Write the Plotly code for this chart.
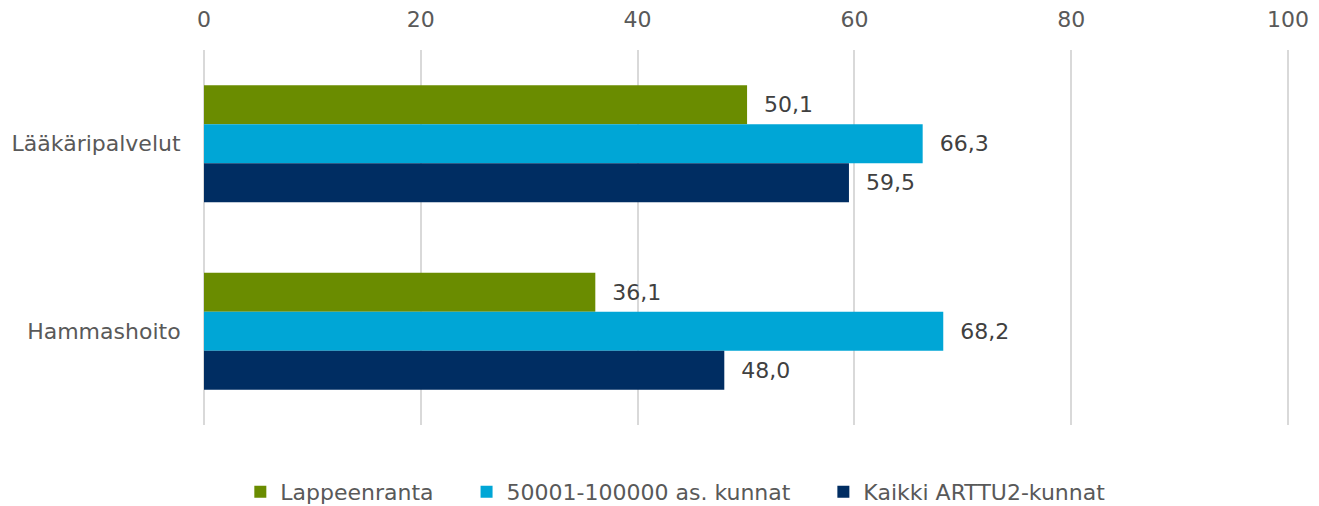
import plotly.graph_objects as go

kategoriat = ["Lääkäripalvelut", "Hammashoito"]
sarjat = ["Lappeenranta", "50001-100000 as. kunnat", "Kaikki ARTTU2-kunnat"]
lappeenranta = [50.1, 36.1]
kunnat_50_100 = [66.3, 68.2]
kaikki_arttu2 = [59.5, 48.0]
x_tikit = [0, 20, 40, 60, 80, 100]

VARIT = ["#6a8c00", "#00a6d6", "#002d62"]
TEKSTI = "#595959"
FONTTI = "Verdana, 'DejaVu Sans', sans-serif"
NBSP = "\u00a0"


def muotoile(v):
    # suomalainen desimaalipilkku, pieni rako palkin päähän
    return NBSP * 2 + f"{v:.1f}".replace(".", ",")


fig = go.Figure()
for i, (nimi, arvot, vari) in enumerate(zip(sarjat, [lappeenranta, kunnat_50_100, kaikki_arttu2], VARIT)):
    fig.add_trace(go.Bar(
        y=kategoriat, x=arvot,
        orientation="h",
        # lisätilaa selitteen kohtien väliin
        name=nimi + (NBSP * 4 if i < len(sarjat) - 1 else ""),
        marker=dict(color=vari, line=dict(width=0)),
        text=[muotoile(v) for v in arvot],
        textposition="outside",
        constraintext="none",
        textfont=dict(size=22, color="#404040", family=FONTTI),
        cliponaxis=False,
    ))

fig.update_layout(
    width=1319, height=506,
    barmode="group",
    bargap=0.376,
    bargroupgap=0,
    plot_bgcolor="white",
    paper_bgcolor="white",
    font=dict(family=FONTTI, size=22, color=TEKSTI),
    margin=dict(l=204, r=28, t=50, b=81, autoexpand=False),
    showlegend=True,
    legend=dict(orientation="h", xref="container", yref="container",
                x=0.512, xanchor="center", y=0.028, yanchor="middle",
                font=dict(size=22, color=TEKSTI), traceorder="normal"),
    # pieni ylitys, jotta 100:n ruudukkoviiva piirtyy reunaan
    xaxis=dict(side="top", range=[0, 100.28], tickvals=x_tikit, automargin=False,
               showgrid=True, gridcolor="#d9d9d9", gridwidth=1.5,
               zeroline=True, zerolinecolor="#d9d9d9", zerolinewidth=1.5,
               showline=False, ticks="outside", ticklen=13, tickcolor="rgba(0,0,0,0)",
               tickfont=dict(size=22, color=TEKSTI)),
    yaxis=dict(autorange="reversed", showgrid=False, showline=False, automargin=False,
               ticks="outside", ticklen=18, tickcolor="rgba(0,0,0,0)",
               tickfont=dict(size=22, color=TEKSTI)),
)

# sivun oletusreunus pois, jotta kuva täyttää ikkunan tarkasti
fig.write_html("out.html", config={"displayModeBar": False},
               post_script="document.body.style.margin='0';")
